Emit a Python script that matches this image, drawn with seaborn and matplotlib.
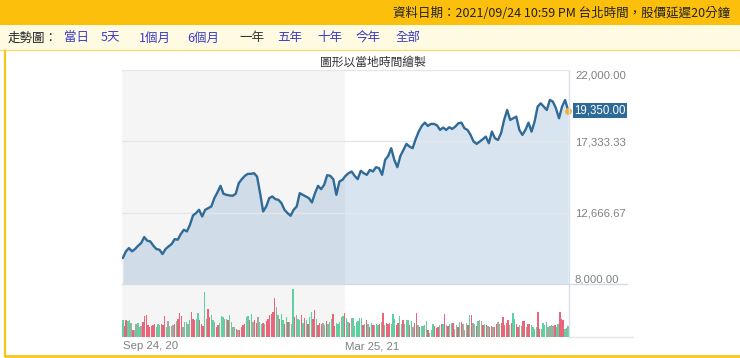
import matplotlib.pyplot as plt
import matplotlib.patches as mpatches
import matplotlib.lines as mlines
import numpy as np
import pandas as pd
import seaborn as sns

sns.set_style('white')
plt.rcParams['font.family'] = ['Liberation Sans', 'Noto Sans CJK TC', 'DejaVu Sans']
CJK = ['Noto Sans CJK TC', 'DejaVu Sans']

# 收盤價 (由圖讀取的估計值)
price = [9698, 10133, 10351, 10133, 10286, 10504, 10678, 11070, 10830, 10787,
         10504, 10286, 10242, 9959, 10286, 10460, 10612, 10939, 10895, 11266,
         11549, 11440, 11875, 12485, 12637, 12855, 12419, 12855, 12964, 13072,
         13617, 13987, 14422, 13900, 13834, 13791, 13769, 13900, 14596, 14858,
         15075, 15206, 15206, 15249, 15032, 13943, 12746, 13072, 13617, 13726,
         13551, 13508, 13290, 12855, 12637, 12463, 12855, 13072, 13943, 13834,
         13726, 13617, 13334, 13943, 14422, 14204, 14487, 15119, 15075, 14858,
         13834, 14705, 14814, 15075, 15249, 15358, 15075, 14858, 15402, 15249,
         15141, 15467, 15358, 15641, 15576, 15141, 16120, 16381, 16882, 16120,
         15641, 16381, 16773, 17165, 16991, 16882, 17470, 17971, 18341, 18558,
         18341, 18471, 18471, 18384, 18080, 18232, 18080, 18254, 18145, 18297,
         18515, 18558, 18188, 18080, 17753, 17318, 17165, 17318, 17470, 17644,
         17209, 17971, 17535, 17426, 17862, 18733, 19386, 18733, 18841, 18950,
         18080, 17753, 18080, 18558, 17971, 18624, 19603, 19821, 19603, 19386,
         20039, 19930, 19495, 18841, 19603, 20039, 19350]

# 成交量 (估計值) 與漲跌顏色: r=漲 g=跌 n=平
volume = [17, 11, 17, 16, 17, 14, 7, 7, 13, 14,
          10, 11, 15, 21, 22, 12, 10, 11, 12, 13,
          10, 13, 12, 13, 12, 21, 10, 16, 11, 11,
          12, 13, 16, 18, 24, 21, 10, 15, 15, 13,
          17, 25, 18, 17, 18, 24, 17, 13, 11, 45,
          18, 28, 20, 22, 17, 15, 10, 12, 14, 21,
          20, 18, 18, 17, 22, 15, 10, 10, 8, 7,
          7, 10, 12, 13, 20, 21, 17, 23, 15, 17,
          14, 20, 15, 13, 14, 13, 16, 18, 22,
          23, 25, 39, 30, 22, 18, 23, 17, 13, 20,
          15, 15, 13, 48, 20, 22, 18, 17, 22, 14,
          19, 17, 13, 20, 25, 18, 27, 18, 12, 14,
          13, 14, 12, 16, 13, 15, 18, 23, 11, 14,
          13, 15, 20, 21, 24, 19, 15, 14, 19, 19,
          11, 15, 16, 19, 19, 12, 13, 17, 13, 10,
          14, 12, 12, 13, 12, 13, 15, 24, 12, 14,
          13, 14, 13, 23, 18, 12, 14, 21, 13, 17,
          13, 17, 17, 12, 16, 10, 14, 24, 12, 10,
          11, 11, 12, 16, 7, 4, 7, 13, 11, 9,
          10, 12, 13, 13, 23, 12, 11, 13, 14, 14,
          8, 12, 10, 15, 15, 13, 7, 14, 12, 22,
          22, 14, 13, 11, 16, 17, 16, 12, 13, 12,
          11, 10, 11, 10, 10, 13, 15, 13, 14, 20,
          12, 14, 17, 12, 14, 24, 18, 13, 10, 12,
          11, 16, 16, 10, 13, 13, 12, 10, 8, 10,
          25, 8, 8, 14, 12, 15, 10, 11, 12, 11,
          12, 10, 13, 25, 18, 17, 8, 9, 11]
moves = ("grrggnrgng" "gnrrrrrrrr" "nggrrrgngn" "nrgrrrnggn" "grrrggrrrg"
         "nrrggnrrgg" "gngrggngrn" "rrrrggrgnr" "rnggrnrrr"
         "rrrngrggrg" "rgngrnggrg" "rgrggrrgrr" "rngrgngrrg" "ggngrggrng"
         "gggggrnrgr" "grnggrnrgr" "rrgggrrggr" "nggrgnrrgr"
         "ggngrnggrr" "rgrgrnrggr" "ngrgrnngrg" "rngrgnnrgr" "grrnrrngrr"
         "rrrgrggrrn" "grrnrrgggg" "rrngggnngn" "rggrrrgng")

start, end = pd.Timestamp('2020-09-24'), pd.Timestamp('2021-09-24')
half_mark = pd.Timestamp('2021-03-25')
yticks = [8000, 12666.67, 17333.33, 22000]
nav_items = ['當日', '5天', '1個月', '6個月', '一年', '五年', '十年', '今年', '全部']
header = '資料日期：2021/09/24 10:59 PM 台北時間，股價延遲20分鐘'
subtitle = '圖形以當地時間繪製'

price_dates = pd.date_range(start, end, periods=len(price))
vol_dates = pd.date_range(start, end, periods=len(volume))
cmap = {'r': '#ec6479', 'g': '#5ed1a0', 'n': '#a6a99d'}
bar_colors = [cmap[c] for c in moves]

W, H = 740, 358
fig = plt.figure(figsize=(W / 100, H / 100), dpi=100)
fig.patch.set_facecolor('white')


def fx(x):
    return x / W


def fy(y):
    return 1 - y / H


# header bars
fig.add_artist(mpatches.Rectangle((0, fy(25)), 1, 25 / H, transform=fig.transFigure,
                                  fc='#fcbf0c', ec='none'))
fig.add_artist(mpatches.Rectangle((0, fy(50)), 1, 25 / H, transform=fig.transFigure,
                                  fc='#fffbe2', ec='none'))
fig.add_artist(mlines.Line2D([0, 1], [fy(50), fy(50)], transform=fig.transFigure,
                             color='#f7dc7a', lw=1))
fig.text(fx(393), fy(13), header, fontsize=9, va='center', ha='left',
         color='#222222', family=CJK)
fig.text(fx(8), fy(38), '走勢圖：', fontsize=9, va='center', color='#222222', family=CJK)
nav_x = [64, 101, 139, 187, 239, 277, 317, 356, 396]
for lab, x in zip(nav_items, nav_x):
    fig.text(fx(x), fy(38), lab, fontsize=9, va='center', family=CJK,
             color='#333333' if lab == '一年' else '#3b3bc8')

# frame
fig.add_artist(mlines.Line2D([fx(5), fx(5)], [fy(51), fy(356)], transform=fig.transFigure,
                             color='#f8c61a', lw=1.6))
fig.add_artist(mlines.Line2D([fx(5), 1], [fy(356), fy(356)], transform=fig.transFigure,
                             color='#f8c61a', lw=2))
fig.text(fx(373), fy(62), subtitle, fontsize=8.5, ha='center', va='center',
         color='#333333', family=CJK)

ax = fig.add_axes([fx(122), fy(284), 447 / W, 214 / H])
axv = fig.add_axes([fx(122), fy(337.3), 447 / W, 53.3 / H], sharex=ax)

pad = pd.Timedelta(days=0.7)
for a in (ax, axv):
    a.axvspan(start - pad, half_mark, color='#f5f5f5', lw=0, zorder=0)
    for s in a.spines.values():
        s.set_visible(False)
    a.set_facecolor('none')

# price
ax.fill_between(price_dates, price, 8000, color='#3d7fb8', alpha=0.2, lw=0, zorder=1)
for v in yticks[1:3]:
    ax.axhline(v, color='#e3e6ea', lw=1, zorder=2)
ax.axhline(22000, color='#e6e6e6', lw=1, zorder=2)
sns.lineplot(x=price_dates, y=price, ax=ax, color='#306a96', lw=1.7, zorder=3)
ax.plot(price_dates[-1], price[-1], 'o', color='#f2b134', ms=4, zorder=4, clip_on=False)
ax.annotate(f'{price[-1]:,.2f}', xy=(price_dates[-1], price[-1]), xytext=(4.3, 0),
            textcoords='offset points', ha='left', va='center', color='white', fontsize=8.3,
            bbox=dict(boxstyle='square,pad=0.14', fc='#2e6a98', ec='none'), zorder=5,
            annotation_clip=False)
ax.set_ylim(8000, 22000)
ax.set_xlim(start - pad, end + pad)
ax.set_yticks(yticks)
ax.set_yticklabels([f'{v:,.2f}' for v in yticks])
ax.yaxis.tick_right()
ax.tick_params(axis='y', length=0, pad=4.3, labelsize=8.2, labelcolor='#808080')
labs = ax.get_yticklabels()
labs[0].set_va('bottom')
labs[-1].set_va('top')
ax.tick_params(axis='x', bottom=False, labelbottom=False)
ax.set_xlabel('')
ax.set_ylabel('')

# volume
axv.bar(vol_dates, volume, width=1.15, color=bar_colors, lw=0, zorder=2)
axv.set_ylim(0, 53.3)
axv.set_yticks([])
axv.set_xticks([start, half_mark])
axv.set_xticklabels([d.strftime('%b %d, %y') for d in (start, half_mark)])
for t in axv.get_xticklabels():
    t.set_ha('left')
axv.tick_params(axis='x', length=0, pad=3, labelsize=8.2, labelcolor='#808080')

# right border and base lines
fig.add_artist(mlines.Line2D([fx(569), fx(569)], [fy(70), fy(337.3)], transform=fig.transFigure,
                             color='#d9e1e9', lw=1))
fig.add_artist(mlines.Line2D([fx(122), fx(627)], [fy(284), fy(284)], transform=fig.transFigure,
                             color='#d3dce5', lw=1))
fig.add_artist(mlines.Line2D([fx(569), fx(633)], [fy(337.3), fy(337.3)], transform=fig.transFigure,
                             color='#e6e6e6', lw=1))

fig.savefig('out.png', dpi=100)
